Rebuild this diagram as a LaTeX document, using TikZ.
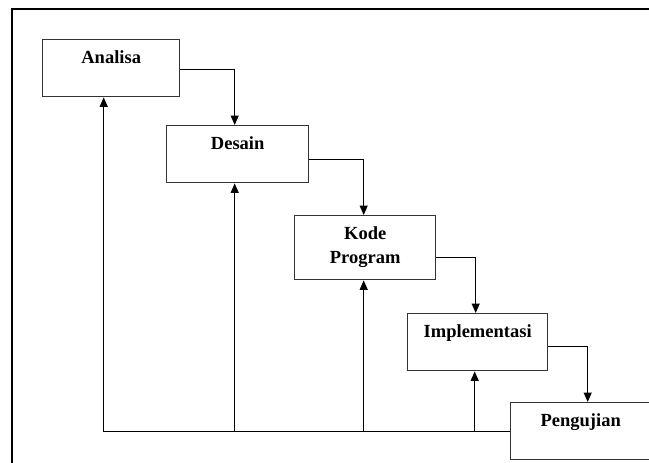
\documentclass[tikz,border=0pt]{standalone}
\usepackage{fontspec}
\setmainfont{Liberation Serif}
\usetikzlibrary{positioning, arrows.meta}

\begin{document}
\begin{tikzpicture}[x=1pt, y=-1pt, >={Triangle[length=9.5pt, width=8pt]},
    box/.style={draw=black!80, line width=1.4pt, minimum width=140pt, inner ysep=0pt,
        text height=24pt, text depth=33pt, anchor=north west, align=center,
        font=\fontsize{18.5}{24}\selectfont\bfseries},
    flow/.style={->, line width=1.3pt}]
                    \useasboundingbox (0,0) rectangle (649,463);
                    \clip (0,0) rectangle (649,463);
                    \draw [line width=2.2pt] (12,9) rectangle (700,520);

                    \node [box, minimum width=137pt] (analisa) at (42,39) {Analisa};
                    \node [box, minimum width=142pt] (desain) at (166,125) {Desain};
                    \node [box, minimum width=141pt, text height=48pt, text depth=16pt] (kode) at (294,215) {Kode\\Program};
                    \node [box] (impl) at (407,313) {Implementasi};
                    \node [box] (uji) at (510,402) {Pengujian};

                    % turun ke tahap berikutnya
                    \draw [flow] ([yshift=-1.5pt]analisa.east) -| ([xshift=-3pt]desain.north);
                    \draw [flow] ([yshift=-5.5pt]desain.east) -| ([xshift=-1.5pt]kode.north);
                    \draw [flow] ([yshift=-10pt]kode.east) -| ([xshift=-2pt]impl.north);
                    \draw [flow] ([yshift=-4.5pt]impl.east) -| ([xshift=7pt]uji.north);

                    % umpan balik
                    \draw [flow] (uji.west) -| ([xshift=-7.5pt]analisa.south);
                    \draw [flow] ([xshift=-3pt]desain.south |- uji.west) -- ([xshift=-3pt]desain.south);
                    \draw [flow] ([xshift=-1.5pt]kode.south |- uji.west) -- ([xshift=-1.5pt]kode.south);
                    \draw [flow] ([xshift=-3pt]impl.south |- uji.west) -- ([xshift=-3pt]impl.south);
                \end{tikzpicture}
\end{document}
